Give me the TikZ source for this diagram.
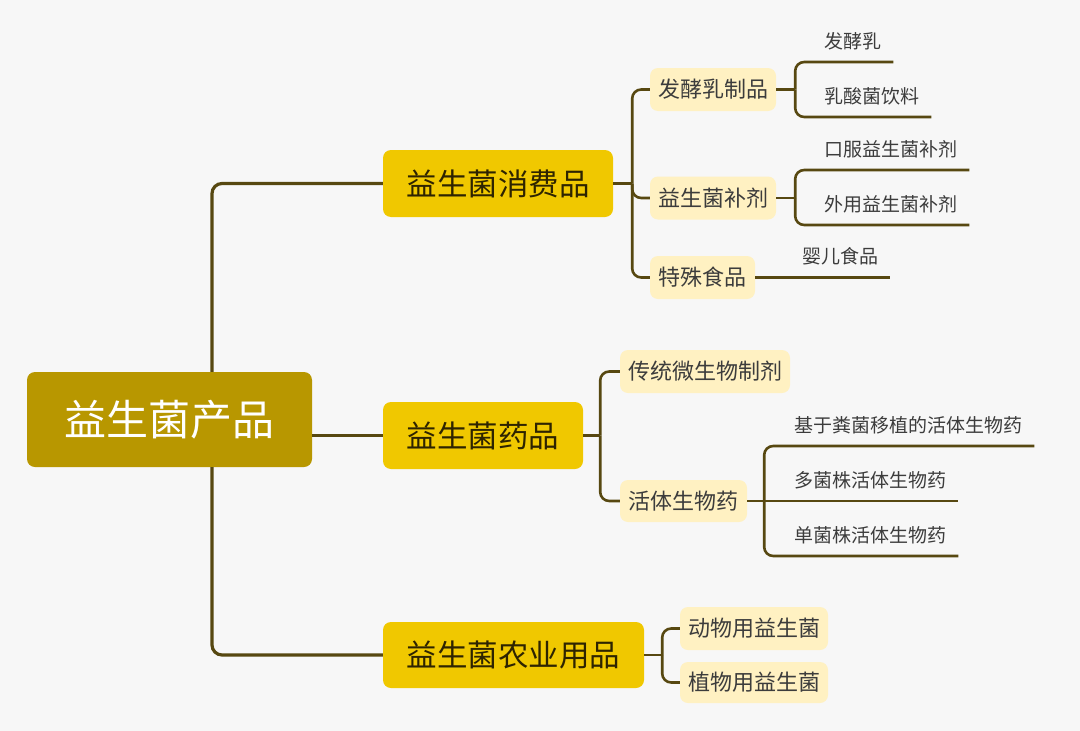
\documentclass[tikz,border=0pt]{standalone}
\usepackage{fontspec}
\newfontfamily\cjk{Noto Sans CJK SC}
\usepackage{xcolor}
\definecolor{bgray}{HTML}{F7F7F7}
\definecolor{rootgold}{HTML}{B89700}
\definecolor{maingold}{HTML}{F0C800}
\definecolor{cream}{HTML}{FFF1C2}
\definecolor{linebrown}{HTML}{574811}
\definecolor{darktext}{HTML}{2E2400}
\definecolor{greytext}{HTML}{3C3C3C}

\begin{document}
\begin{tikzpicture}[x=1pt, y=-1pt,
    cjkbox/.style={rectangle, text centered, rounded corners=8pt, inner sep=0pt},
    rootbox/.style={cjkbox, fill=rootgold, text=white, text height=37pt, text depth=5pt, font=\cjk\fontsize{42}{42}\selectfont},
    mainbox/.style={cjkbox, fill=maingold, text=darktext, minimum height=67pt, text height=26.8pt, text depth=3.7pt, font=\cjk\fontsize{30.5}{31}\selectfont},
    subbox/.style={cjkbox, fill=cream, text=greytext, minimum height=43pt, text height=19.4pt, text depth=2.6pt, font=\cjk\fontsize{22}{22}\selectfont},
    leaf/.style={anchor=south west, inner xsep=12pt, inner ysep=11.5pt, text=greytext, text height=16.7pt, text depth=2.3pt, font=\cjk\fontsize{19}{19}\selectfont},
    trunk/.style={draw=linebrown, line width=3.2pt, rounded corners=10pt},
    link/.style={draw=linebrown, line width=2.6pt, rounded corners=9pt}]

    \fill[bgray] (0,0) rectangle (1080,731);
    \useasboundingbox (0,0) rectangle (1080,731);

    % root and main branches
    \node[rootbox, minimum width=285pt, minimum height=95pt] (root) at (169.5,419.5) {益生菌产品};
    \node[mainbox, minimum width=230pt] (consumer) at (498,183.5) {益生菌消费品};
    \node[mainbox, minimum width=200pt] (drug) at (483,435.5) {益生菌药品};
    \node[mainbox, minimum width=261pt, minimum height=66pt] (agri) at (513.5,655) {益生菌农业用品};

    % second level
    \node[subbox, minimum width=126pt] (ferment) at (713,89.5) {发酵乳制品};
    \node[subbox, minimum width=126pt] (supplement) at (713,198) {益生菌补剂};
    \node[subbox, minimum width=105pt] (special) at (702.5,277.5) {特殊食品};
    \node[subbox, minimum width=170pt] (tradition) at (705,371.5) {传统微生物制剂};
    \node[subbox, minimum width=127pt, minimum height=42pt] (live) at (683.5,501) {活体生物药};
    \node[subbox, minimum width=148pt] (animal) at (754,628.5) {动物用益生菌};
    \node[subbox, minimum width=148pt, minimum height=41pt] (plant) at (754,682.5) {植物用益生菌};

    % leaves
    \node[leaf] (milk) at (812,62) {发酵乳};
    \node[leaf] (drink) at (812,117) {乳酸菌饮料};
    \node[leaf] (oral) at (812,170) {口服益生菌补剂};
    \node[leaf] (topical) at (812,225) {外用益生菌补剂};
    \node[leaf] (infant) at (790,277.5) {婴儿食品};
    \node[leaf] (fecal) at (782,446) {基于粪菌移植的活体生物药};
    \node[leaf] (multi) at (782,501) {多菌株活体生物药};
    \node[leaf] (single) at (782,556) {单菌株活体生物药};

    % root connectors
    \draw[trunk] ([xshift=42.5pt]root.north) |- (consumer.west);
    \draw[trunk] ([xshift=42.5pt]root.south) |- (agri.west);
    \draw[trunk] (root.east |- drug.west) -- (drug.west);

    % main to second level
    \draw[link] (consumer.east) -- ++(19,0) coordinate (cjoint);
    \draw[link] (cjoint) |- (ferment.west);
    \draw[link] (cjoint) |- (supplement.west);
    \draw[link] (cjoint) |- (special.west);
    \draw[link] (drug.east) -- ++(17,0) coordinate (djoint);
    \draw[link] (djoint) |- (tradition.west);
    \draw[link] (djoint) |- (live.west);
    \draw[link] (agri.east) -- ++(18,0) coordinate (ajoint);
    \draw[link] (ajoint) |- (animal.west);
    \draw[link] (ajoint) |- (plant.west);

    % second level to leaves
    \draw[link] (ferment.east) -- ++(19,0) coordinate (fjoint);
    \draw[link] (fjoint) |- (milk.south east);
    \draw[link] (fjoint) |- (drink.south east);
    \draw[link] (supplement.east) -- ++(19,0) coordinate (sjoint);
    \draw[link] (sjoint) |- (oral.south east);
    \draw[link] (sjoint) |- (topical.south east);
    \draw[link] (special.east) -- (infant.south east);
    \draw[link] (live.east) -- ++(17,0) coordinate (ljoint);
    \draw[link] (ljoint) |- (fecal.south east);
    \draw[link] (ljoint) -- (multi.south east);
    \draw[link] (ljoint) |- (single.south east);
\end{tikzpicture}
\end{document}
